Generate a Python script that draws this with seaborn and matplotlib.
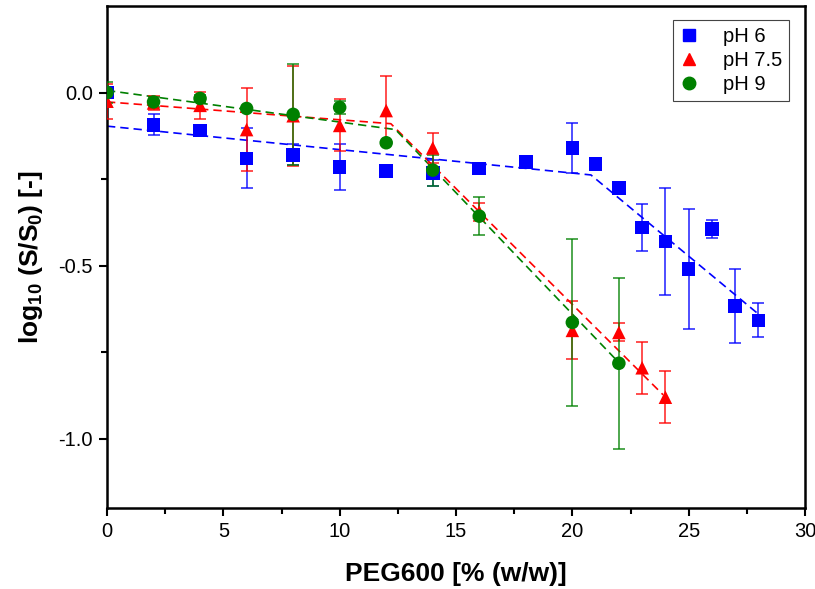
import numpy as np
import pandas as pd
import matplotlib
matplotlib.use("Agg")
import matplotlib.pyplot as plt
from matplotlib.lines import Line2D
import seaborn as sns

sns.set_theme(style="ticks")
plt.rcParams['font.family'] = ['Liberation Sans', 'DejaVu Sans']
plt.rcParams['mathtext.fontset'] = 'custom'
plt.rcParams['mathtext.rm'] = 'Liberation Sans'
plt.rcParams['mathtext.bf'] = 'Liberation Sans:bold'
plt.rcParams['mathtext.it'] = 'Liberation Sans:italic'
for k in ['text.color', 'axes.labelcolor', 'xtick.color', 'ytick.color', 'axes.edgecolor']:
    plt.rcParams[k] = 'black'

# ---- data ----
x_ph6 = [0, 2, 4, 6, 8, 10, 12, 14, 16, 18, 20, 21, 22, 23, 24, 25, 26, 27, 28]
y_ph6 = [0.0, -0.093, -0.11, -0.19, -0.18, -0.215, -0.226, -0.232, -0.22, -0.2,
         -0.16, -0.206, -0.275, -0.39, -0.43, -0.51, -0.394, -0.617, -0.658]
e_ph6 = [0.01, 0.03, 0.0, 0.087, 0.03, 0.067, 0.0, 0.038, 0.0, 0.0,
         0.072, 0.015, 0.0, 0.067, 0.154, 0.174, 0.025, 0.107, 0.049]

x_ph75 = [0, 2, 4, 6, 8, 10, 12, 14, 16, 20, 22, 23, 24]
y_ph75 = [-0.025, -0.03, -0.037, -0.107, -0.067, -0.095, -0.052, -0.16, -0.345,
          -0.687, -0.693, -0.795, -0.88]
e_ph75 = [0.05, 0.02, 0.038, 0.12, 0.145, 0.075, 0.1, 0.044, 0.026,
          0.084, 0.026, 0.075, 0.075]

x_ph9 = [0, 2, 4, 6, 8, 10, 12, 14, 16, 20, 22]
y_ph9 = [0.0, -0.027, -0.017, -0.046, -0.063, -0.043, -0.145, -0.224, -0.357,
         -0.664, -0.782]
e_ph9 = [0.03, 0.015, 0.01, 0.0, 0.145, 0.02, 0.0, 0.045, 0.054, 0.24, 0.247]

# piecewise-linear fits (breakpoints)
fit_x_ph6 = [0, 20.8, 28]
fit_y_ph6 = [-0.097, -0.238, -0.64]
fit_x_ph75 = [0, 12.2, 23.9]
fit_y_ph75 = [-0.027, -0.09, -0.873]
fit_x_ph9 = [0, 12.4, 22]
fit_y_ph9 = [0.006, -0.107, -0.78]

labels = ["pH 6", "pH 7.5", "pH 9"]
colors = {"pH 6": "#0000ff", "pH 7.5": "#ff0000", "pH 9": "#008000"}
markers = {"pH 6": "s", "pH 7.5": "^", "pH 9": "o"}

pts = pd.concat([
    pd.DataFrame({"x": x_ph6, "y": y_ph6, "e": e_ph6, "pH": "pH 6"}),
    pd.DataFrame({"x": x_ph75, "y": y_ph75, "e": e_ph75, "pH": "pH 7.5"}),
    pd.DataFrame({"x": x_ph9, "y": y_ph9, "e": e_ph9, "pH": "pH 9"}),
], ignore_index=True)
fits = pd.concat([
    pd.DataFrame({"x": fit_x_ph6, "y": fit_y_ph6, "pH": "pH 6"}),
    pd.DataFrame({"x": fit_x_ph75, "y": fit_y_ph75, "pH": "pH 7.5"}),
    pd.DataFrame({"x": fit_x_ph9, "y": fit_y_ph9, "pH": "pH 9"}),
], ignore_index=True)

fig = plt.figure(figsize=(8.15, 5.89), dpi=100)
ax = fig.add_axes([107/815, 1 - 508/589, (805-107)/815, (508-6)/589])

# fit lines
for lab in labels:
    d = fits[fits.pH == lab]
    ax.plot(d.x, d.y, color=colors[lab], lw=1.2, ls=(0, (5, 3)), zorder=2)

# error bars
for lab in labels:
    d = pts[pts.pH == lab]
    ax.errorbar(d.x, d.y, yerr=d.e, fmt='none', ecolor=colors[lab], elinewidth=1.3,
                capsize=4.5, capthick=1.3, alpha=0.75, zorder=3)

sns.scatterplot(data=pts, x="x", y="y", hue="pH", style="pH",
                hue_order=labels, style_order=labels,
                palette=colors, markers=markers,
                s=95, edgecolor="none", linewidth=0, ax=ax, zorder=4, legend=False)

# legend
handles = [Line2D([], [], ls='none', marker=markers[l], color=colors[l], markersize=9)
           for l in labels]
leg = ax.legend(handles, labels, loc="upper right", bbox_to_anchor=(0.977, 0.972),
                fontsize=14.5, frameon=True, fancybox=False, edgecolor="#444444",
                framealpha=1, handletextpad=1.2, labelspacing=0.25,
                borderpad=0.35, borderaxespad=0, handlelength=0.9)
leg.get_frame().set_linewidth(0.8)

ax.set_xlim(0, 30)
ax.set_ylim(-1.2, 0.25)
ax.set_xticks([0, 5, 10, 15, 20, 25, 30])
ax.set_xticks(np.arange(0, 30.1, 2.5), minor=True)
ax.set_yticks([-1.0, -0.5, 0.0])
ax.set_yticks([-1.0, -0.75, -0.5, -0.25, 0.0], minor=True)
ax.set_yticklabels(["-1.0", "-0.5", "0.0"])
ax.tick_params(which="major", direction="out", length=6, width=1.5, labelsize=14.5, pad=4)
ax.tick_params(which="minor", direction="out", length=4, width=1.5)
for s in ax.spines.values():
    s.set_linewidth(1.8)
    s.set_color("black")

ax.set_xlabel("PEG600 [% (w/w)]", fontsize=19, fontweight="bold", labelpad=15)
ax.set_ylabel(r"log$_{\mathbf{10}}$ (S/S$_{\mathbf{0}}$) [-]", fontsize=19, fontweight="bold", labelpad=10)

fig.savefig("out.png", dpi=100)
